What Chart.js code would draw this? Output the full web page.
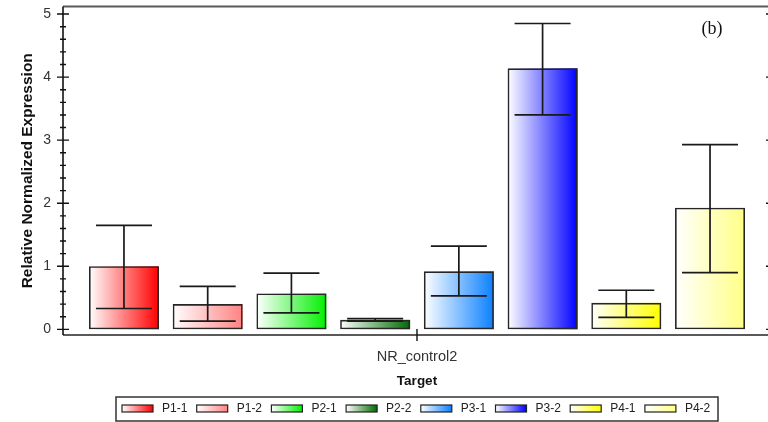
<!DOCTYPE html>
<html>
<head>
<meta charset="utf-8">
<script src="https://cdn.jsdelivr.net/npm/chart.js@4.4.1/dist/chart.umd.min.js"></script>
<style>
  html, body { margin: 0; padding: 0; background: #fff; overflow: hidden; width: 768px; height: 422px; }
  canvas { display: block; }
</style>
</head>
<body>
<canvas id="c" width="774" height="422"></canvas>
<script>
// Relative normalized expression of target NR_control2 per sample
const categories = ['NR_control2'];
const samples = ['P1-1', 'P1-2', 'P2-1', 'P2-2', 'P3-1', 'P3-2', 'P4-1', 'P4-2'];
const expression = [1.00, 0.40, 0.57, 0.15, 0.92, 4.14, 0.42, 1.93];
const errorLow = [0.33, 0.13, 0.26, 0.13, 0.53, 3.40, 0.19, 0.90];
const errorHigh = [1.65, 0.68, 0.89, 0.17, 1.32, 4.85, 0.62, 2.93];
const yTicks = [0, 1, 2, 3, 4, 5];
const sampleColors = ['#ff0000', '#ff8282', '#00f000', '#006a00', '#0a80ff', '#0000ff', '#ffff00', '#ffff85'];

const FONT = '"Liberation Sans", Arial, sans-serif';

function hGradient(ctx, x0, x1, color) {
  const g = ctx.createLinearGradient(x0, 0, x1, 0);
  g.addColorStop(0, '#ffffff');
  g.addColorStop(1, color);
  return g;
}

const decor = {
  id: 'decor',
  // gradient fill of each bar, using the element geometry from the bar controller
  beforeDatasetsDraw(chart) {
    const ctx = chart.ctx;
    chart.data.datasets.forEach((ds, i) => {
      chart.getDatasetMeta(i).data.forEach(el => {
        const { x, y, base, width } = el.getProps(['x', 'y', 'base', 'width'], true);
        ctx.save();
        ctx.fillStyle = hGradient(ctx, x - width / 2, x + width / 2, sampleColors[i]);
        ctx.fillRect(x - width / 2, Math.min(y, base), width, Math.abs(base - y));
        ctx.restore();
      });
    });
  },
  // error bars
  afterDatasetsDraw(chart) {
    const ctx = chart.ctx;
    const ys = chart.scales.y;
    ctx.save();
    ctx.strokeStyle = '#1a1a1a';
    ctx.lineWidth = 1.7;
    chart.data.datasets.forEach((ds, i) => {
      chart.getDatasetMeta(i).data.forEach(el => {
        const { x, width } = el.getProps(['x', 'width'], true);
        const hi = ys.getPixelForValue(errorHigh[i]);
        const lo = ys.getPixelForValue(errorLow[i]);
        const cap = width * 0.4;
        ctx.beginPath();
        ctx.moveTo(x, hi); ctx.lineTo(x, lo);
        ctx.moveTo(x - cap, hi); ctx.lineTo(x + cap, hi);
        ctx.moveTo(x - cap, lo); ctx.lineTo(x + cap, lo);
        ctx.stroke();
      });
    });
    ctx.restore();
  },
  // axis lines, tick marks, panel tag and legend
  afterDraw(chart) {
    const ctx = chart.ctx;
    const { left, right, top, bottom } = chart.chartArea;
    const ys = chart.scales.y;
    const xs = chart.scales.x;
    ctx.save();

    ctx.strokeStyle = '#5a5a5a';
    ctx.lineWidth = 2;
    ctx.beginPath();
    ctx.moveTo(left, top); ctx.lineTo(right + 4, top);
    ctx.moveTo(left, bottom); ctx.lineTo(right + 4, bottom);
    ctx.stroke();

    ctx.strokeStyle = '#111';
    ctx.lineWidth = 1.6;
    ctx.beginPath();
    ctx.moveTo(left, top); ctx.lineTo(left, bottom);
    ctx.stroke();

    ctx.lineWidth = 1.4;
    ctx.beginPath();
    yTicks.forEach(v => {
      const py = ys.getPixelForValue(v);
      ctx.moveTo(left - 6, py); ctx.lineTo(left + 6, py);
      ctx.moveTo(right - 5, py); ctx.lineTo(right + 5, py);
    });
    for (let k = 1; k < 25; k++) {
      if (k % 5 === 0) continue;
      const py = ys.getPixelForValue(k * 0.2);
      ctx.moveTo(left - 3, py); ctx.lineTo(left + 3, py);
    }
    const px = xs.getPixelForValue(0);
    ctx.moveTo(px, bottom - 6); ctx.lineTo(px, bottom + 6);
    ctx.stroke();

    // panel tag
    ctx.fillStyle = '#111';
    ctx.font = '18px "Liberation Serif", "Times New Roman", serif';
    ctx.textAlign = 'center';
    ctx.textBaseline = 'middle';
    ctx.fillText('(b)', 712, 29);

    // legend
    ctx.strokeStyle = '#333';
    ctx.lineWidth = 1.5;
    ctx.strokeRect(116, 397, 602, 24);
    ctx.font = '12px ' + FONT;
    ctx.textAlign = 'left';
    samples.forEach((name, i) => {
      const sx = 122 + i * 74.7;
      ctx.fillStyle = hGradient(ctx, sx, sx + 31, sampleColors[i]);
      ctx.fillRect(sx, 405, 31, 7);
      ctx.lineWidth = 1.2;
      ctx.strokeStyle = '#222';
      ctx.strokeRect(sx, 405, 31, 7);
      ctx.fillStyle = '#222';
      ctx.fillText(name, sx + 40, 409);
    });
    ctx.restore();
  }
};

new Chart(document.getElementById('c'), {
  type: 'bar',
  data: {
    labels: categories,
    datasets: samples.map((name, i) => ({
      label: name,
      data: [expression[i]],
      backgroundColor: 'rgba(0,0,0,0)',
      borderColor: '#262626',
      borderWidth: 1.6,
      borderSkipped: false,
      categoryPercentage: 0.946,
      barPercentage: 0.836
    }))
  },
  options: {
    responsive: false,
    animation: false,
    devicePixelRatio: 1,
    layout: { padding: { top: 6.5, right: 3, bottom: 29, left: 0 } },
    plugins: { legend: { display: false }, tooltip: { enabled: false } },
    scales: {
      x: {
        grid: { display: false, drawTicks: false },
        border: { display: false },
        ticks: { color: '#333', font: { family: FONT, size: 14.5 }, padding: 13 },
        title: { display: true, text: 'Target', color: '#111', font: { family: FONT, size: 13.5, weight: 'bold' }, padding: { top: 0, bottom: 4 } },
        afterFit(scale) {
          scale.height = 58;
          scale.paddingLeft = 0; scale.paddingRight = 0;
        }
      },
      y: {
        min: -0.09,
        max: 5.12,
        grid: { display: false, drawTicks: false },
        border: { display: false },
        afterBuildTicks(scale) { scale.ticks = yTicks.map(v => ({ value: v })); },
        ticks: { color: '#333', font: { family: FONT, size: 14 }, padding: 12 },
        title: { display: true, text: 'Relative Normalized Expression', color: '#111', font: { family: FONT, size: 15.5, weight: 'bold' }, padding: { top: 18, bottom: 0 } },
        afterFit(scale) {
          scale.width = 63;
          scale.paddingTop = 0; scale.paddingBottom = 0;
        }
      }
    }
  },
  plugins: [decor]
});
</script>
</body>
</html>
